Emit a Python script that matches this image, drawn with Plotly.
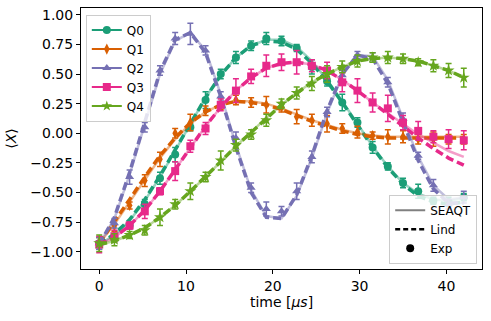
import plotly.graph_objects as go

# time axis (microseconds)
t = [0, 1.75, 3.5, 5.25, 7, 8.75, 10.5, 12.25, 14, 15.75, 17.5, 19.25, 21,
     22.75, 24.5, 26.25, 28, 29.75, 31.5, 33.25, 35, 36.75, 38.5, 40.25, 42]

# experimental <X> per qubit
exp_q0 = [-0.93, -0.88, -0.78, -0.60, -0.38, -0.18, 0.05, 0.28, 0.50, 0.64, 0.74, 0.80, 0.78,
          0.72, 0.56, 0.44, 0.26, 0.09, -0.12, -0.28, -0.42, -0.49, -0.57, -0.58, -0.54]
exp_q1 = [-0.92, -0.78, -0.61, -0.40, -0.22, 0.00, 0.09, 0.19, 0.25, 0.28, 0.26, 0.24, 0.22,
          0.14, 0.11, 0.08, 0.04, 0.01, -0.02, -0.03, -0.03, -0.05, -0.05, -0.05, -0.05]
exp_q2 = [-0.93, -0.76, -0.37, 0.05, 0.53, 0.80, 0.84, 0.70, 0.31, -0.04, -0.46, -0.64, -0.66,
          -0.49, -0.20, 0.18, 0.49, 0.66, 0.64, 0.43, 0.12, -0.19, -0.44, -0.60, -0.54]
exp_q3 = [-0.94, -0.87, -0.78, -0.66, -0.49, -0.32, -0.11, 0.04, 0.24, 0.36, 0.48, 0.57, 0.60,
          0.60, 0.57, 0.53, 0.43, 0.36, 0.26, 0.21, 0.09, 0.02, -0.03, -0.05, -0.06]
exp_q4 = [-0.93, -0.90, -0.86, -0.82, -0.71, -0.60, -0.49, -0.37, -0.23, -0.10, -0.01, 0.11, 0.25,
          0.34, 0.42, 0.50, 0.56, 0.61, 0.64, 0.64, 0.63, 0.60, 0.57, 0.53, 0.47]

# error bars
err_q0 = [0.05, 0.03, 0.03, 0.04, 0.05, 0.06, 0.03, 0.07, 0.04, 0.05, 0.04, 0.05, 0.04,
          0.03, 0.06, 0.04, 0.07, 0.04, 0.05, 0.03, 0.04, 0.06, 0.03, 0.04, 0.03]
err_q1 = [0.04, 0.05, 0.03, 0.05, 0.06, 0.04, 0.07, 0.04, 0.05, 0.04, 0.04, 0.07, 0.04,
          0.06, 0.05, 0.07, 0.04, 0.05, 0.03, 0.06, 0.05, 0.04, 0.06, 0.04, 0.04]
err_q2 = [0.05, 0.04, 0.06, 0.04, 0.04, 0.05, 0.09, 0.04, 0.04, 0.05, 0.04, 0.06, 0.04,
          0.07, 0.05, 0.04, 0.04, 0.03, 0.04, 0.04, 0.05, 0.03, 0.05, 0.04, 0.05]
err_q3 = [0.07, 0.05, 0.03, 0.06, 0.03, 0.08, 0.05, 0.05, 0.05, 0.10, 0.06, 0.09, 0.07,
          0.10, 0.05, 0.07, 0.08, 0.10, 0.08, 0.11, 0.06, 0.08, 0.05, 0.08, 0.08]
err_q4 = [0.07, 0.05, 0.03, 0.04, 0.07, 0.04, 0.07, 0.04, 0.08, 0.05, 0.04, 0.05, 0.04,
          0.05, 0.06, 0.07, 0.05, 0.05, 0.04, 0.05, 0.04, 0.03, 0.05, 0.06, 0.08]

# SEAQT model
seaqt_q0 = [-0.94, -0.86, -0.74, -0.57, -0.37, -0.15, 0.08, 0.30, 0.49, 0.64, 0.74, 0.79, 0.79,
            0.73, 0.61, 0.45, 0.27, 0.08, -0.11, -0.28, -0.42, -0.51, -0.56, -0.57, -0.55]
seaqt_q1 = [-0.93, -0.77, -0.58, -0.39, -0.21, -0.05, 0.08, 0.18, 0.24, 0.27, 0.27, 0.25, 0.21,
            0.16, 0.11, 0.07, 0.03, 0.00, -0.02, -0.03, -0.03, -0.03, -0.03, -0.03, -0.03]
seaqt_q2 = [-0.94, -0.72, -0.35, 0.08, 0.50, 0.78, 0.85, 0.70, 0.33, -0.10, -0.48, -0.70, -0.72,
            -0.53, -0.21, 0.17, 0.49, 0.66, 0.65, 0.45, 0.12, -0.20, -0.44, -0.56, -0.54]
seaqt_q3 = [-0.94, -0.88, -0.78, -0.65, -0.49, -0.31, -0.12, 0.06, 0.22, 0.36, 0.47, 0.55, 0.59,
            0.60, 0.58, 0.53, 0.45, 0.36, 0.26, 0.17, 0.08, -0.01, -0.08, -0.15, -0.20]
seaqt_q4 = [-0.94, -0.91, -0.86, -0.80, -0.71, -0.61, -0.49, -0.37, -0.24, -0.11, 0.01, 0.13, 0.24,
            0.34, 0.43, 0.50, 0.56, 0.61, 0.63, 0.64, 0.63, 0.61, 0.57, 0.53, 0.47]

# Lindblad model
lind_q0 = [-0.94, -0.85, -0.73, -0.56, -0.36, -0.14, 0.09, 0.30, 0.49, 0.64, 0.74, 0.78, 0.77,
           0.71, 0.59, 0.44, 0.26, 0.07, -0.12, -0.29, -0.43, -0.53, -0.58, -0.60, -0.58]
lind_q1 = [-0.93, -0.75, -0.56, -0.37, -0.19, -0.04, 0.09, 0.18, 0.24, 0.27, 0.26, 0.24, 0.20,
           0.15, 0.10, 0.06, 0.02, -0.01, -0.03, -0.04, -0.04, -0.04, -0.04, -0.04, -0.04]
lind_q2 = [-0.94, -0.71, -0.33, 0.10, 0.52, 0.79, 0.85, 0.68, 0.31, -0.12, -0.50, -0.71, -0.72,
           -0.52, -0.19, 0.19, 0.50, 0.66, 0.63, 0.42, 0.09, -0.23, -0.47, -0.59, -0.59]
lind_q3 = [-0.94, -0.88, -0.78, -0.65, -0.49, -0.31, -0.12, 0.06, 0.22, 0.36, 0.47, 0.55, 0.59,
           0.60, 0.58, 0.53, 0.45, 0.36, 0.26, 0.16, 0.06, -0.04, -0.13, -0.21, -0.27]
lind_q4 = [-0.94, -0.91, -0.86, -0.80, -0.71, -0.61, -0.49, -0.37, -0.24, -0.11, 0.01, 0.13, 0.24,
           0.34, 0.43, 0.50, 0.56, 0.61, 0.63, 0.64, 0.63, 0.61, 0.57, 0.53, 0.47]

names = ["Q0", "Q1", "Q2", "Q3", "Q4"]
colors = ["#1b9e77", "#d95f02", "#7570b3", "#e7298a", "#66a61e"]
symbols = ["circle", "diamond-tall", "triangle-up", "square", "star"]
exps = [exp_q0, exp_q1, exp_q2, exp_q3, exp_q4]
errs = [err_q0, err_q1, err_q2, err_q3, err_q4]
seaqts = [seaqt_q0, seaqt_q1, seaqt_q2, seaqt_q3, seaqt_q4]
linds = [lind_q0, lind_q1, lind_q2, lind_q3, lind_q4]

fig = go.Figure()

for name, c, sym, e, er, s, l in zip(names, colors, symbols, exps, errs, seaqts, linds):
    fig.add_trace(go.Scatter(x=t, y=s, mode="lines", line=dict(color=c, width=2.5),
                             opacity=0.45, showlegend=False, hoverinfo="skip"))
    fig.add_trace(go.Scatter(x=t, y=l, mode="lines", line=dict(color=c, width=3.5, dash="8px,4px"),
                             showlegend=False, hoverinfo="skip"))
    fig.add_trace(go.Scatter(x=t, y=e, mode="markers", name=name,
                             marker=dict(color=c, symbol=sym, size=8 if sym != "star" else 9),
                             error_y=dict(type="data", array=er, color=c, thickness=1.5, width=3),
                             showlegend=False))
    # legend entry
    fig.add_trace(go.Scatter(x=[None], y=[None], mode="lines+markers", name=name,
                             line=dict(color=c, width=2),
                             marker=dict(color=c, symbol=sym, size=8), legend="legend"))

fig.add_trace(go.Scatter(x=[None], y=[None], mode="lines", name="SEAQT",
                         line=dict(color="gray", width=2), legend="legend2"))
fig.add_trace(go.Scatter(x=[None], y=[None], mode="lines", name="Lind",
                         line=dict(color="black", width=2.5, dash="5px,3px"), legend="legend2"))
fig.add_trace(go.Scatter(x=[None], y=[None], mode="markers", name="Exp",
                         marker=dict(color="black", symbol="circle", size=8), legend="legend2"))

axis_common = dict(showline=True, linecolor="black", linewidth=1, mirror=True,
                   ticks="outside", ticklen=4, tickcolor="black", showgrid=False,
                   zeroline=False, tickfont=dict(size=14, color="black"))

fig.update_xaxes(range=[-2.1, 44.1], tickvals=[0, 10, 20, 30, 40],
                 title=dict(text="time [<i>μs</i>]", font=dict(size=14), standoff=2), **axis_common)
fig.update_yaxes(range=[-1.147, 1.058], tickvals=[-1, -0.75, -0.5, -0.25, 0, 0.25, 0.5, 0.75, 1],
                 tickformat=".2f", title=dict(text="⟨<i>X</i>⟩", font=dict(size=14), standoff=10),
                 **axis_common)

fig.update_layout(
    width=491, height=321,
    margin=dict(l=81, r=9, t=8, b=52),
    plot_bgcolor="white", paper_bgcolor="white",
    font=dict(family="DejaVu Sans", size=12, color="black"),
    legend=dict(x=0.012, y=0.975, xanchor="left", yanchor="top", bgcolor="rgba(255,255,255,0.8)",
                bordercolor="#cccccc", borderwidth=1, font=dict(size=12), itemwidth=30,
                tracegroupgap=0),
    legend2=dict(x=0.988, y=0.02, xanchor="right", yanchor="bottom", bgcolor="rgba(255,255,255,0.8)",
                 bordercolor="#cccccc", borderwidth=1, font=dict(size=12), itemwidth=30),
)

fig.write_html("out.html", config={"displayModeBar": False},
               post_script="document.body.style.margin='0px';")
